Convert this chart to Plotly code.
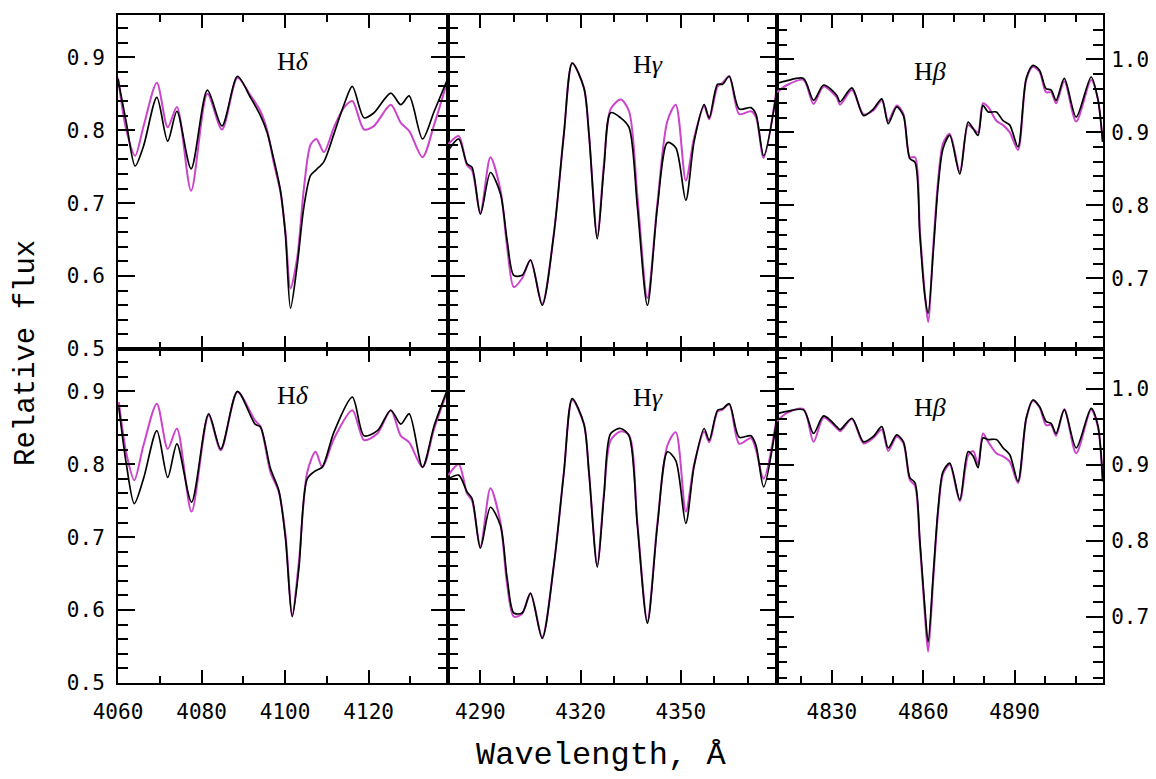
import plotly.graph_objects as go
from plotly.subplots import make_subplots

# ---------------- data ----------------
# Top row, H-delta panel
hd_top_wl = [4060.0, 4062.0, 4064.1, 4066.1, 4069.3, 4071.9, 4074.1, 4077.5, 4081.4, 4084.9,
             4088.6, 4091.7, 4094.1, 4095.7, 4097.3, 4098.9, 4100.1, 4101.3, 4102.9, 4104.5,
             4106.1, 4107.5, 4109.3, 4111.7, 4114.1, 4116.1, 4118.9, 4121.3, 4125.3, 4127.7,
             4129.7, 4132.9, 4135.7, 4138.9]
hd_top_black = [0.870, 0.810, 0.751, 0.778, 0.845, 0.785, 0.826, 0.747, 0.855, 0.806,
                0.874, 0.845, 0.820, 0.797, 0.760, 0.717, 0.655, 0.556, 0.615, 0.695,
                0.738, 0.746, 0.757, 0.795, 0.835, 0.860, 0.817, 0.824, 0.851, 0.835,
                0.847, 0.788, 0.826, 0.870]
hd_top_magenta = [0.872, 0.800, 0.765, 0.805, 0.865, 0.804, 0.832, 0.717, 0.850, 0.801,
                  0.872, 0.848, 0.826, 0.800, 0.755, 0.715, 0.660, 0.583, 0.625, 0.720,
                  0.780, 0.788, 0.770, 0.804, 0.831, 0.840, 0.801, 0.806, 0.835, 0.810,
                  0.799, 0.763, 0.808, 0.868]

# Bottom row, H-delta panel
hd_bot_wl = [4060.2, 4062.0, 4063.9, 4066.1, 4069.3, 4071.9, 4074.1, 4077.6, 4081.7, 4084.6,
             4088.6, 4092.8, 4094.1, 4096.5, 4098.5, 4100.1, 4101.7, 4103.3, 4105.3, 4107.3,
             4108.9, 4111.7, 4116.1, 4118.9, 4122.1, 4125.3, 4127.7, 4129.7, 4132.9, 4135.7,
             4138.9]
hd_bot_black = [0.878, 0.800, 0.746, 0.780, 0.846, 0.782, 0.828, 0.748, 0.869, 0.821,
                0.900, 0.855, 0.851, 0.794, 0.764, 0.698, 0.591, 0.657, 0.780, 0.791,
                0.796, 0.844, 0.892, 0.839, 0.846, 0.874, 0.855, 0.869, 0.796, 0.853,
                0.903]
hd_bot_magenta = [0.885, 0.815, 0.778, 0.826, 0.883, 0.821, 0.849, 0.735, 0.867, 0.819,
                  0.899, 0.860, 0.852, 0.789, 0.762, 0.703, 0.593, 0.666, 0.789, 0.817,
                  0.796, 0.835, 0.874, 0.833, 0.842, 0.874, 0.839, 0.830, 0.796, 0.849,
                  0.901]

# H-gamma panels (shared wavelength grid)
hg_wl = [4280.4, 4283.5, 4286.0, 4287.5, 4290.0, 4293.0, 4296.0, 4298.0, 4300.0, 4302.5,
         4305.0, 4308.5, 4312.0, 4315.0, 4317.5, 4321.0, 4322.5, 4325.0, 4327.0, 4329.0,
         4332.0, 4334.5, 4337.0, 4340.0, 4343.0, 4346.0, 4348.5, 4351.5, 4354.0, 4357.0,
         4358.5, 4361.0, 4362.5, 4364.5, 4367.5, 4371.0, 4372.5, 4374.8, 4378.7]
hg_top_black = [0.772, 0.788, 0.754, 0.749, 0.685, 0.742, 0.713, 0.649, 0.601, 0.601,
                0.622, 0.560, 0.658, 0.795, 0.892, 0.858, 0.795, 0.651, 0.749, 0.824,
                0.817, 0.804, 0.695, 0.560, 0.695, 0.783, 0.776, 0.704, 0.785, 0.835,
                0.817, 0.863, 0.863, 0.874, 0.829, 0.831, 0.822, 0.765, 0.852]
hg_top_magenta = [0.781, 0.792, 0.752, 0.745, 0.687, 0.763, 0.718, 0.640, 0.585, 0.597,
                  0.622, 0.562, 0.658, 0.795, 0.892, 0.858, 0.795, 0.655, 0.755, 0.829,
                  0.842, 0.826, 0.710, 0.570, 0.700, 0.813, 0.835, 0.731, 0.790, 0.833,
                  0.815, 0.860, 0.865, 0.874, 0.822, 0.826, 0.818, 0.762, 0.857]
hg_bot_black = [0.780, 0.785, 0.762, 0.753, 0.685, 0.741, 0.716, 0.644, 0.596, 0.596,
                0.623, 0.561, 0.662, 0.789, 0.890, 0.855, 0.789, 0.659, 0.757, 0.842,
                0.849, 0.839, 0.716, 0.582, 0.716, 0.817, 0.805, 0.719, 0.798, 0.849,
                0.833, 0.874, 0.876, 0.883, 0.837, 0.839, 0.826, 0.769, 0.860]
hg_bot_magenta = [0.785, 0.800, 0.760, 0.750, 0.687, 0.767, 0.720, 0.635, 0.591, 0.595,
                  0.623, 0.563, 0.662, 0.789, 0.888, 0.855, 0.789, 0.662, 0.760, 0.833,
                  0.845, 0.840, 0.720, 0.585, 0.720, 0.826, 0.844, 0.735, 0.800, 0.845,
                  0.830, 0.872, 0.875, 0.882, 0.828, 0.836, 0.820, 0.780, 0.863]

# H-beta panels (shared wavelength grid)
hb_wl = [4812.0, 4815.3, 4820.7, 4824.0, 4827.3, 4831.6, 4832.7, 4836.6, 4840.4, 4843.6,
         4846.4, 4848.5, 4851.3, 4853.5, 4855.6, 4857.3, 4858.9, 4860.5, 4861.6, 4863.3,
         4864.9, 4866.5, 4868.7, 4872.0, 4874.7, 4876.4, 4878.0, 4879.6, 4881.3, 4884.0,
         4886.2, 4888.4, 4891.1, 4893.8, 4896.0, 4898.2, 4900.3, 4902.0, 4903.6, 4906.3,
         4910.2, 4915.1, 4917.3, 4918.9]
hb_top_black = [0.967, 0.971, 0.974, 0.944, 0.965, 0.951, 0.942, 0.961, 0.923, 0.932,
                0.946, 0.912, 0.935, 0.923, 0.864, 0.859, 0.759, 0.677, 0.652, 0.737,
                0.827, 0.878, 0.896, 0.843, 0.914, 0.905, 0.896, 0.937, 0.928, 0.928,
                0.916, 0.910, 0.880, 0.974, 0.992, 0.985, 0.960, 0.958, 0.944, 0.974,
                0.921, 0.976, 0.946, 0.887]
hb_top_magenta = [0.955, 0.965, 0.972, 0.939, 0.963, 0.948, 0.938, 0.958, 0.925, 0.930,
                  0.944, 0.916, 0.937, 0.925, 0.866, 0.866, 0.765, 0.680, 0.640, 0.745,
                  0.835, 0.885, 0.898, 0.846, 0.910, 0.905, 0.900, 0.940, 0.935, 0.916,
                  0.910, 0.900, 0.876, 0.972, 0.990, 0.983, 0.955, 0.955, 0.940, 0.970,
                  0.915, 0.972, 0.946, 0.887]
hb_bot_black = [0.967, 0.970, 0.972, 0.941, 0.964, 0.950, 0.946, 0.961, 0.930, 0.937,
                0.950, 0.922, 0.939, 0.930, 0.883, 0.876, 0.800, 0.713, 0.667, 0.757,
                0.843, 0.891, 0.902, 0.854, 0.917, 0.911, 0.896, 0.935, 0.933, 0.933,
                0.922, 0.913, 0.878, 0.961, 0.985, 0.976, 0.957, 0.954, 0.941, 0.972,
                0.922, 0.974, 0.952, 0.878]
hb_bot_magenta = [0.957, 0.968, 0.973, 0.930, 0.962, 0.948, 0.944, 0.960, 0.928, 0.935,
                  0.946, 0.918, 0.937, 0.928, 0.880, 0.872, 0.795, 0.705, 0.654, 0.750,
                  0.838, 0.888, 0.900, 0.852, 0.912, 0.918, 0.900, 0.941, 0.930, 0.915,
                  0.911, 0.904, 0.876, 0.960, 0.984, 0.975, 0.952, 0.952, 0.938, 0.973,
                  0.915, 0.972, 0.950, 0.878]

panel_labels = ["H<i>δ</i>", "H<i>γ</i>", "H<i>β</i>"]
x_ranges = [[4060, 4139], [4280.3, 4378.8], [4812.0, 4919.0]]
x_tick0 = [4060, 4290, 4830]
x_dtick = [20, 30, 30]
y_left_range = [0.5, 0.958]
y_right_ranges = [[0.603, 1.061], [0.613, 1.052]]

# ---------------- figure ----------------
MAGENTA = "#cc44cc"
fig = make_subplots(rows=2, cols=3, shared_xaxes=False, shared_yaxes=False,
                    horizontal_spacing=0, vertical_spacing=0,
                    column_widths=[330, 329, 326])

panels = [
    (1, 1, hd_top_wl, hd_top_black, hd_top_magenta),
    (1, 2, hg_wl, hg_top_black, hg_top_magenta),
    (1, 3, hb_wl, hb_top_black, hb_top_magenta),
    (2, 1, hd_bot_wl, hd_bot_black, hd_bot_magenta),
    (2, 2, hg_wl, hg_bot_black, hg_bot_magenta),
    (2, 3, hb_wl, hb_bot_black, hb_bot_magenta),
]
for r, c, wl, blk, mag in panels:
    fig.add_trace(go.Scatter(x=wl, y=mag, mode="lines",
                             line=dict(color=MAGENTA, width=2, shape="spline", smoothing=0.8),
                             showlegend=False, hoverinfo="skip"), row=r, col=c)
    fig.add_trace(go.Scatter(x=wl, y=blk, mode="lines",
                             line=dict(color="black", width=1.7, shape="spline", smoothing=0.8),
                             showlegend=False, hoverinfo="skip"), row=r, col=c)

tickfont = dict(family="DejaVu Sans Mono", size=21, color="black")
for r in (1, 2):
    for c in (1, 2, 3):
        fig.update_xaxes(range=x_ranges[c - 1], tick0=x_tick0[c - 1], dtick=x_dtick[c - 1],
                         showline=True, linewidth=2, linecolor="black", mirror="ticks",
                         ticks="inside", ticklen=13, tickwidth=1.5, tickcolor="black",
                         minor=dict(ticks="inside", ticklen=7, tickwidth=1.5, tickcolor="black",
                                    dtick=10, showgrid=False),
                         showgrid=False, zeroline=False, showticklabels=(r == 2),
                         tickfont=tickfont, ticklabelstandoff=9,
                         row=r, col=c)
        if c < 3:
            yr = y_left_range
            side = "left"
        else:
            yr = y_right_ranges[r - 1]
            side = "right"
        fig.update_yaxes(range=yr, tick0=0.5, dtick=0.1, tickformat=".1f", side=side,
                         showline=True, linewidth=2, linecolor="black", mirror="ticks",
                         ticks="inside", ticklen=17, tickwidth=1.5, tickcolor="black",
                         minor=dict(ticks="inside", ticklen=10, tickwidth=1.5, tickcolor="black",
                                    dtick=0.02, showgrid=False),
                         showgrid=False, zeroline=False, showticklabels=(c != 2),
                         tickfont=tickfont, ticklabelstandoff=(7 if c == 1 else 2),
                         row=r, col=c)

# page offset (browser body margin) and plot-area geometry in page pixels
OFF = 8
PL, PT, PW, PH = 118, 13, 985, 670
def px(x):
    return (x - PL) / PW
def py(y):
    return (PT + PH - y) / PH

label_pos = [((293, 60), (648, 63), (930, 70)), ((293, 395), (648, 397), (930, 407))]
for r in range(2):
    for c in range(3):
        x0, y0 = label_pos[r][c]
        fig.add_annotation(x=px(x0), y=py(y0), xref="paper", yref="paper", text=panel_labels[c],
                           showarrow=False, xanchor="center", yanchor="middle",
                           font=dict(family="Liberation Serif", size=26, color="black"))

fig.add_annotation(x=px(601), y=py(756), xref="paper", yref="paper", text="Wavelength, Å",
                   showarrow=False, xanchor="center", yanchor="middle",
                   font=dict(family="Liberation Mono", size=32, color="black"))
fig.add_annotation(x=px(27), y=py(352), xref="paper", yref="paper", text="Relative flux",
                   showarrow=False, xanchor="center", yanchor="middle", textangle=-90,
                   font=dict(family="Liberation Mono", size=29, color="black"))

fig.update_layout(width=1156 - OFF, height=779 - OFF,
                  margin=dict(l=PL - OFF, r=1156 - (PL + PW), t=PT - OFF, b=779 - (PT + PH)),
                  paper_bgcolor="white", plot_bgcolor="white", showlegend=False)

fig.write_html("out.html")
